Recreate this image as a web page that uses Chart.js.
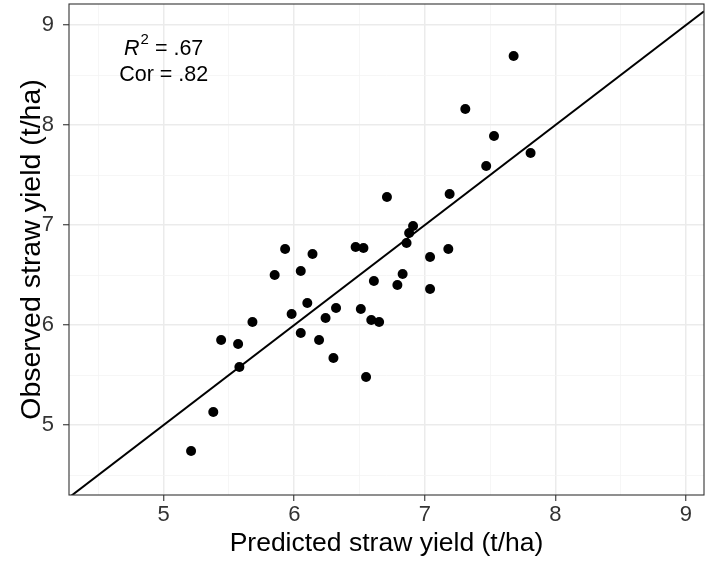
<!DOCTYPE html>
<html lang="en">
<head>
    <meta charset="UTF-8">
    <title>Observed vs predicted straw yield</title>
    <style>
        body { margin: 0; background: #fff; }
        #wrap { width: 705px; height: 563px; }
    </style>
</head>
<body>
    <div id="wrap"><canvas id="yieldChart" width="705" height="563"></canvas></div>
    <script src="https://cdn.jsdelivr.net/npm/chart.js"></script>
    <script>
    // Predicted (x) and observed (y) straw yield, t/ha
    const predicted = [7.68, 7.31, 7.53, 7.81, 7.47, 7.19, 6.71, 6.91, 6.88, 6.86,
                       6.47, 6.53, 6.14, 7.18, 7.04, 6.05, 6.83, 6.61, 6.79, 7.04,
                       6.10, 6.32, 6.51, 6.24, 6.59, 6.65, 6.05, 6.19, 6.30, 6.55,
                       5.93, 5.85, 5.98, 5.68, 5.44, 5.57, 5.58, 5.38, 5.21];
    const observed  = [8.69, 8.16, 7.89, 7.72, 7.59, 7.31, 7.28, 6.99, 6.92, 6.82,
                       6.78, 6.77, 6.71, 6.76, 6.68, 6.54, 6.51, 6.44, 6.40, 6.36,
                       6.22, 6.17, 6.16, 6.07, 6.05, 6.03, 5.92, 5.85, 5.67, 5.48,
                       6.76, 6.50, 6.11, 6.03, 5.85, 5.81, 5.58, 5.13, 4.74];

    const xRange = [4.275, 9.138];
    const yRange = [4.30, 9.21];
    const xTicks = [5, 6, 7, 8, 9];
    const xMinor = [4.5, 5.5, 6.5, 7.5, 8.5];
    const yTicks = [5, 6, 7, 8, 9];
    const yMinor = [4.5, 5.5, 6.5, 7.5, 8.5];

    const annotation = { x: 5, y: 8.6275, r2: '.67', cor: '.82' };

    const FONT = '"Liberation Sans", Arial, Helvetica, sans-serif';

    const points = predicted.map((p, i) => ({ x: p, y: observed[i] }));
    // 1:1 line across the whole panel
    const oneToOne = [{ x: xRange[0], y: xRange[0] }, { x: xRange[1], y: xRange[1] }];

    function tickList(major, minor) {
        return major.concat(minor).sort((a, b) => a - b).map(v => ({ value: v }));
    }

    function gridStyle(major) {
        return {
            color: ctx => major.includes(ctx.tick.value) ? '#ebebeb' : '#f4f4f4',
            lineWidth: ctx => major.includes(ctx.tick.value) ? 1.5 : 0.8,
            tickColor: ctx => major.includes(ctx.tick.value) ? '#333333' : 'rgba(0,0,0,0)',
            tickWidth: 1.1,
            tickLength: 6,
            drawTicks: true
        };
    }

    // panel border + R2/Cor text
    const panelPlugin = {
        id: 'panel',
        afterDatasetsDraw(chart) {
            const { ctx, chartArea: a, scales } = chart;
            ctx.save();
            ctx.strokeStyle = '#333333';
            ctx.lineWidth = 1.1;
            ctx.strokeRect(a.left, a.top, a.right - a.left, a.bottom - a.top);

            const cx = scales.x.getPixelForValue(annotation.x);
            const cy = scales.y.getPixelForValue(annotation.y);
            ctx.fillStyle = '#000';
            ctx.textBaseline = 'middle';

            // first line: italic R, superscript 2, " = .67"
            const y1 = cy - 13;
            const fR = 'italic 21.5px ' + FONT;
            const fSup = '15px ' + FONT;
            const fTxt = '21.5px ' + FONT;
            const rest = ' = ' + annotation.r2;
            ctx.font = fR; const wR = ctx.measureText('R').width;
            ctx.font = fSup; const w2 = ctx.measureText('2').width;
            ctx.font = fTxt; const wRest = ctx.measureText(rest).width;
            let x = cx - (wR + w2 + 1 + wRest) / 2;
            ctx.textAlign = 'left';
            ctx.font = fR; ctx.fillText('R', x, y1); x += wR + 1;
            ctx.font = fSup; ctx.fillText('2', x, y1 - 9); x += w2;
            ctx.font = fTxt; ctx.fillText(rest, x, y1);

            // second line
            ctx.textAlign = 'center';
            ctx.fillText('Cor = ' + annotation.cor, cx, cy + 13);
            ctx.restore();
        }
    };

    new Chart(document.getElementById('yieldChart'), {
        type: 'scatter',
        data: {
            datasets: [{
                label: 'Observed vs predicted',
                data: points,
                backgroundColor: '#000',
                borderWidth: 0,
                pointRadius: 5,
                order: 1
            }, {
                type: 'line',
                label: '1:1',
                data: oneToOne,
                borderColor: '#000',
                borderWidth: 2,
                pointRadius: 0,
                fill: false,
                order: 2
            }]
        },
        options: {
            responsive: false,
            animation: false,
            events: [],
            layout: { autoPadding: false, padding: { top: 4, right: 1, left: 0, bottom: 0 } },
            plugins: { legend: { display: false }, tooltip: { enabled: false } },
            scales: {
                x: {
                    type: 'linear',
                    min: xRange[0],
                    max: xRange[1],
                    afterBuildTicks: s => { s.ticks = tickList(xTicks, xMinor); },
                    afterFit: s => { s.height = 68; s.paddingLeft = 0; s.paddingRight = 0; },
                    grid: gridStyle(xTicks),
                    border: { display: false },
                    ticks: {
                        autoSkip: false,
                        maxRotation: 0,
                        padding: 1,
                        color: '#333333',
                        font: { family: FONT, size: 22 },
                        callback: v => xTicks.includes(v) ? String(v) : ''
                    },
                    title: {
                        display: true,
                        text: 'Predicted straw yield (t/ha)',
                        color: '#000',
                        font: { family: FONT, size: 26.5 },
                        padding: { top: 0, bottom: 3 }
                    }
                },
                y: {
                    type: 'linear',
                    min: yRange[0],
                    max: yRange[1],
                    afterBuildTicks: s => { s.ticks = tickList(yTicks, yMinor); },
                    afterFit: s => { s.width = 69; s.paddingTop = 0; s.paddingBottom = 0; },
                    grid: gridStyle(yTicks),
                    border: { display: false },
                    ticks: {
                        autoSkip: false,
                        padding: 9,
                        color: '#333333',
                        font: { family: FONT, size: 22 },
                        callback: v => yTicks.includes(v) ? String(v) : ''
                    },
                    title: {
                        display: true,
                        text: 'Observed straw yield (t/ha)',
                        color: '#000',
                        font: { family: FONT, size: 28.5 },
                        padding: { top: 15, bottom: 0 }
                    }
                }
            }
        },
        plugins: [panelPlugin]
    });
    </script>
</body>
</html>
